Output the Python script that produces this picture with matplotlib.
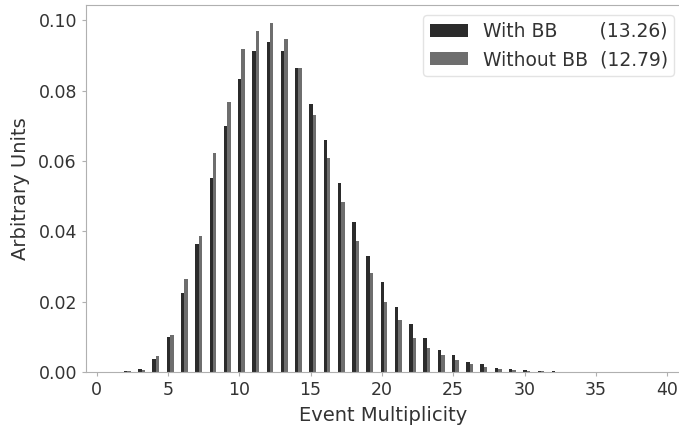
import numpy as np
import matplotlib
matplotlib.use("Agg")
import matplotlib.pyplot as plt

# multiplicity bins
mult = np.arange(0, 41)

# With BB (mean 13.26)
with_bb = [0, 0, 0.0002, 0.0009, 0.0037, 0.0099, 0.0224, 0.0363, 0.0550, 0.0699,
           0.0833, 0.0913, 0.0937, 0.0913, 0.0863, 0.0761, 0.0659, 0.0538, 0.0425, 0.0330,
           0.0255, 0.0186, 0.0136, 0.0098, 0.0063, 0.0048, 0.0028, 0.0022, 0.0011, 0.0008,
           0.0006, 0.0003, 0.0002, 0.0001, 0.0001, 0.00005, 0, 0, 0, 0, 0]
# Without BB (mean 12.79)
without_bb = [0, 0, 0.0002, 0.0007, 0.0045, 0.0104, 0.0265, 0.0387, 0.0623, 0.0766,
              0.0918, 0.0970, 0.0993, 0.0945, 0.0863, 0.0729, 0.0609, 0.0483, 0.0372, 0.0282,
              0.0198, 0.0147, 0.0098, 0.0069, 0.0048, 0.0033, 0.0022, 0.0013, 0.0008, 0.0005,
              0.0003, 0.0002, 0.0001, 0.00005, 0.00003, 0, 0, 0, 0, 0, 0]

labels = ["With BB       (13.26)", "Without BB  (12.79)"]

txt = "#333333"
edge = "#b0b0b0"

fig = plt.figure(figsize=(6.79, 4.33), dpi=100)
ax = fig.add_axes([86 / 679, 61 / 433, 594 / 679, 367 / 433])

w = 0.24
ax.bar(mult + 0.03, with_bb, width=w, color="#2b2b2b", label=labels[0])
ax.bar(mult + 0.03 + w, without_bb, width=w, color="#6e6e6e", label=labels[1])

ax.set_xlim(-0.75, 40.9)
ax.set_ylim(0, 0.1043)
ax.set_xticks(np.arange(0, 41, 5))
ax.set_yticks([0, 0.02, 0.04, 0.06, 0.08, 0.10])
ax.set_yticklabels(["0.00", "0.02", "0.04", "0.06", "0.08", "0.10"])

for s in ax.spines.values():
    s.set_color(edge)
ax.tick_params(colors=edge, labelcolor=txt, labelsize=12.5, length=3)

ax.set_xlabel("Event Multiplicity", fontsize=14, color=txt, labelpad=5)
ax.set_ylabel("Arbitrary Units", fontsize=14, color=txt, labelpad=6)

leg = ax.legend(loc="upper right", fontsize=13.5, frameon=True, handlelength=2.0,
                borderpad=0.35, bbox_to_anchor=(1.006, 0.998))
leg.get_frame().set_edgecolor("#dddddd")
for t in leg.get_texts():
    t.set_color(txt)

fig.savefig("out.png", dpi=100)
